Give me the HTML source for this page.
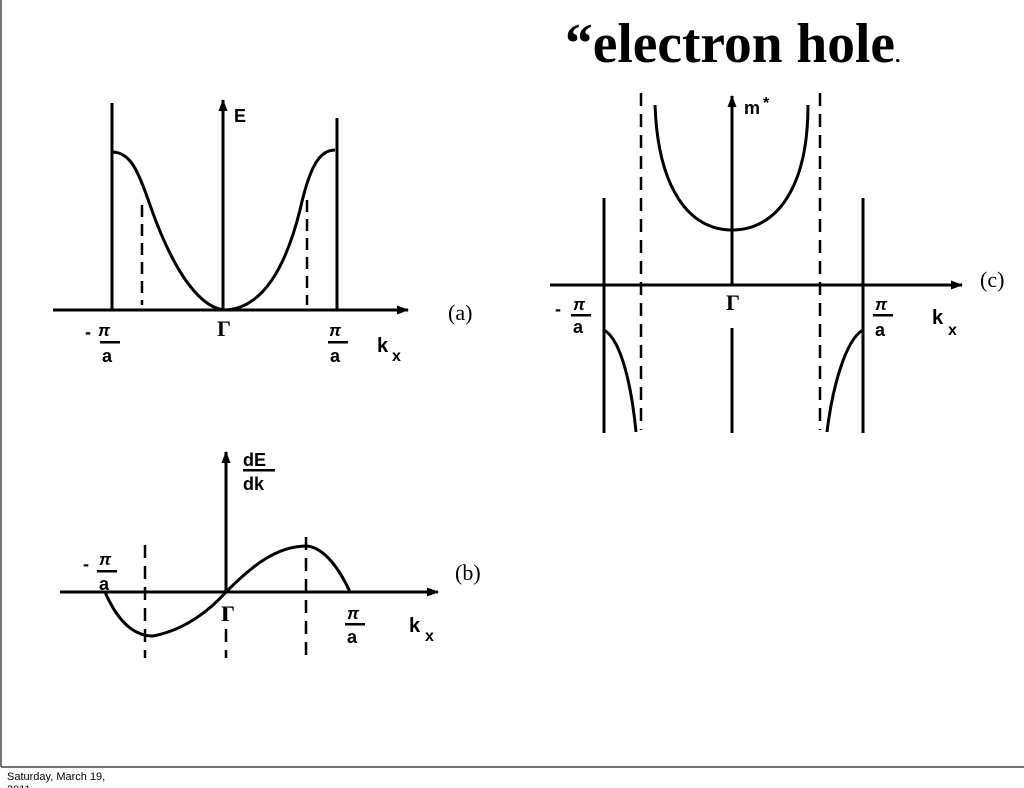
<!DOCTYPE html>
<html><head><meta charset="utf-8"><style>
body{margin:0;background:#fff;width:1024px;height:788px;overflow:hidden}
svg{position:absolute;left:0;top:0}
.s{font-family:"Liberation Sans",sans-serif;font-weight:bold}
.r{font-family:"Liberation Serif",serif}
</style></head><body>
<svg width="1024" height="788" viewBox="0 0 1024 788">
<defs><marker id="ar" markerWidth="12" markerHeight="9" refX="11" refY="4.5" orient="auto" markerUnits="userSpaceOnUse"><path d="M0,0 L12,4.5 L0,9 z" fill="#000"/></marker></defs>
<g stroke="#000" fill="none" stroke-width="3">
<line x1="1" y1="0" x2="1" y2="767" stroke-width="1.5" stroke="#444"/>
<line x1="1" y1="767" x2="1024" y2="767" stroke-width="1.5" stroke="#444"/>
<!-- (a) -->
<line x1="53" y1="310" x2="408" y2="310" marker-end="url(#ar)"/>
<line x1="223" y1="310" x2="223" y2="100" marker-end="url(#ar)"/>
<line x1="112" y1="103" x2="112" y2="310"/>
<line x1="337" y1="118" x2="337" y2="310"/>
<path d="M112,152 C130,152 138,170 150,205 C170,262 195,305 223,310 C250,310 280,290 300,210 C310,165 320,150 335,150"/>
<line x1="142" y1="205" x2="142" y2="305" stroke-dasharray="12,7" stroke-width="2.5"/>
<line x1="307" y1="200" x2="307" y2="305" stroke-dasharray="12,7" stroke-width="2.5"/>
<!-- (b) -->
<line x1="60" y1="592" x2="438" y2="592" marker-end="url(#ar)"/>
<line x1="226" y1="592" x2="226" y2="452" marker-end="url(#ar)"/>
<line x1="226" y1="608" x2="226" y2="658" stroke-dasharray="13,8" stroke-width="2.5"/>
<line x1="145" y1="545" x2="145" y2="658" stroke-dasharray="13,8" stroke-width="2.5"/>
<line x1="306" y1="537" x2="306" y2="658" stroke-dasharray="13,8" stroke-width="2.5"/>
<path d="M105,592 C115,615 130,636 153,636 C185,630 210,610 226,592 C250,568 275,546 307,546 C325,548 340,570 350,592"/>
<!-- (c) -->
<line x1="550" y1="285" x2="962" y2="285" marker-end="url(#ar)"/>
<line x1="732" y1="285" x2="732" y2="96" marker-end="url(#ar)"/>
<line x1="732" y1="328" x2="732" y2="433"/>
<line x1="604" y1="198" x2="604" y2="433"/>
<line x1="863" y1="198" x2="863" y2="433"/>
<line x1="641" y1="93" x2="641" y2="430" stroke-dasharray="13,8" stroke-width="2.5"/>
<line x1="820" y1="93" x2="820" y2="430" stroke-dasharray="13,8" stroke-width="2.5"/>
<path d="M655,105 C658,190 690,230 732,230 C775,230 808,190 808,105"/>
<path d="M604,330 C622,340 632,390 636,432"/>
<path d="M863,330 C845,340 832,390 827,432"/>
</g>
<g fill="#000">
<text x="565" y="62" class="r" font-weight="bold" font-size="56" textLength="330" lengthAdjust="spacingAndGlyphs">“electron hole</text>
<text x="894" y="62" class="r" font-size="30">.</text>
<text x="234" y="122" class="s" font-size="18">E</text>
<text x="448" y="320" class="r" font-size="22">(a)</text>
<text x="98" y="336" class="s" font-size="17" font-style="italic">π</text><text x="85" y="338" class="s" font-size="18">-</text>
<rect x="100" y="341" width="20" height="2.5"/><text x="102" y="362" class="s" font-size="18">a</text>
<text x="217" y="336" class="r" font-size="22" font-weight="bold">Γ</text>
<text x="329" y="336" class="s" font-size="17" font-style="italic">π</text>
<rect x="328" y="341" width="20" height="2.5"/><text x="330" y="362" class="s" font-size="18">a</text>
<text x="377" y="352" class="s" font-size="20">k</text><text x="392" y="361" class="s" font-size="16">x</text>
<text x="243" y="466" class="s" font-size="18">dE</text><rect x="243" y="469" width="32" height="2.5"/>
<text x="243" y="490" class="s" font-size="18">dk</text>
<text x="455" y="580" class="r" font-size="22">(b)</text>
<text x="99" y="565" class="s" font-size="17" font-style="italic">π</text><text x="83" y="570" class="s" font-size="18">-</text>
<rect x="97" y="570" width="20" height="2.5"/><text x="99" y="590" class="s" font-size="18">a</text>
<text x="221" y="621" class="r" font-size="22" font-weight="bold">Γ</text>
<text x="347" y="619" class="s" font-size="17" font-style="italic">π</text>
<rect x="345" y="623" width="20" height="2.5"/><text x="347" y="643" class="s" font-size="18">a</text>
<text x="409" y="632" class="s" font-size="20">k</text><text x="425" y="641" class="s" font-size="16">x</text>
<text x="744" y="114" class="s" font-size="18">m</text><text x="763" y="108" class="s" font-size="16">*</text>
<text x="980" y="287" class="r" font-size="22">(c)</text>
<text x="573" y="310" class="s" font-size="17" font-style="italic">π</text><text x="555" y="315" class="s" font-size="18">-</text>
<rect x="571" y="314" width="20" height="2.5"/><text x="573" y="333" class="s" font-size="18">a</text>
<text x="726" y="310" class="r" font-size="22" font-weight="bold">Γ</text>
<text x="875" y="310" class="s" font-size="17" font-style="italic">π</text>
<rect x="873" y="314" width="20" height="2.5"/><text x="875" y="336" class="s" font-size="18">a</text>
<text x="932" y="324" class="s" font-size="20">k</text><text x="948" y="335" class="s" font-size="16">x</text>
<text x="7" y="780" font-family="Liberation Sans, sans-serif" font-size="11">Saturday, March 19,</text>
<text x="7" y="793" font-family="Liberation Sans, sans-serif" font-size="11">2011</text>
</g>
</svg>
</body></html>
